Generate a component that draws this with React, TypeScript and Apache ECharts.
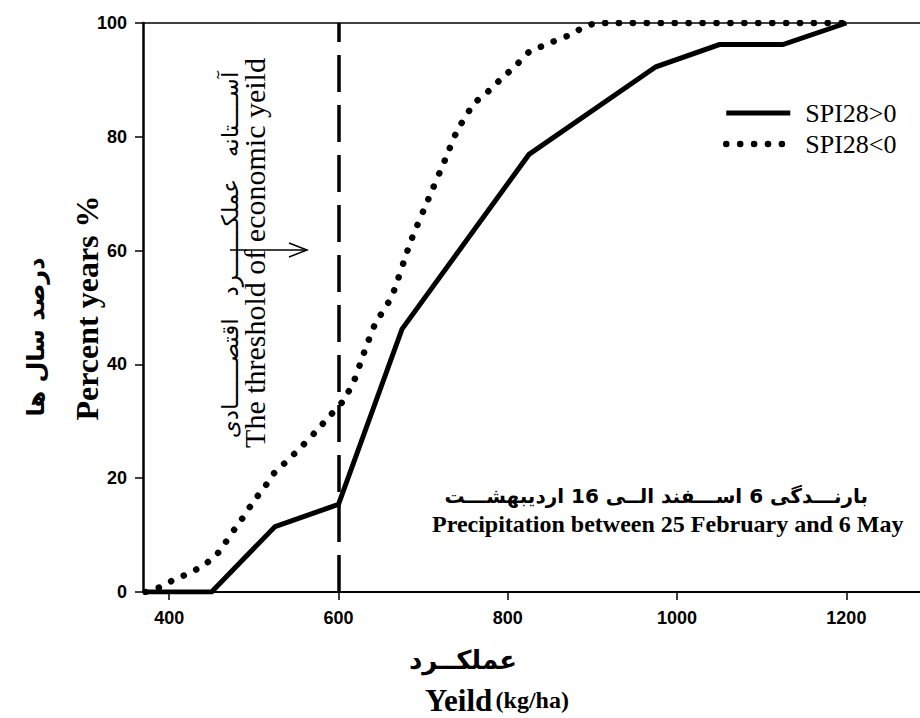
import React, { useEffect, useRef } from "react";
import * as echarts from "echarts";

const xTickValues = [400, 600, 800, 1000, 1200];
const yTickLabels = ["0", "20", "40", "60", "80", "100"];
const thresholdYield = 600;

const seriesNames = ["SPI28>0", "SPI28<0"];

// SPI28>0 : [yield kg/ha, percent years]
const solidData: [number, number][] = [
  [374, 0],
  [450, 0],
  [525, 11.5],
  [600, 15.4],
  [675, 46.2],
  [825, 76.9],
  [975, 92.3],
  [1050, 96.2],
  [1125, 96.2],
  [1200, 100],
];

// SPI28<0
const dottedData: [number, number][] = [
  [372, 0],
  [392, 1],
  [407, 2.3],
  [424, 3.3],
  [439, 4.6],
  [454, 6.2],
  [466, 8.6],
  [477, 11],
  [489, 13.5],
  [500, 16],
  [512, 18.3],
  [524, 20.9],
  [539, 23],
  [556, 25.5],
  [572, 28],
  [590, 31],
  [605, 33.5],
  [618, 37],
  [630, 42],
  [643, 47],
  [663, 52],
  [685, 61.5],
  [706, 69],
  [726, 76],
  [740, 81],
  [760, 85.8],
  [777, 88],
  [793, 90.3],
  [810, 92.6],
  [825, 94.9],
  [842, 96],
  [858, 97],
  [875, 98],
  [890, 99.3],
  [907, 100],
  [1200, 100],
];

const yAxisNameEn = "Percent years %";
const yAxisNameFa = "درصد سال ها";
const xAxisNameFa = "عملکــرد";
const xAxisNameEn = "Yeild";
const xAxisUnit = "(kg/ha)";
const thresholdEn = "The threshold of economic yeild";
const thresholdFa = "آســــتانه   عملکـــــــرد   اقتصــــــادی";
const periodFa = "بارنـــدگی 6 اســـفند الــی 16 اردیبهشـــت";
const periodEn = "Precipitation between 25 February and 6 May";

const serif = "Liberation Serif, Times New Roman, serif";
const sans = "Liberation Sans, Arial, sans-serif";
const faFont = "DejaVu Sans, sans-serif";

const solidStyle = { color: "#000", width: 5 };
const dottedStyle = { color: "#000", width: 6.5, type: [0.1, 13.8], cap: "round" };

export default function App() {
  const ref = useRef<HTMLDivElement>(null);

  useEffect(() => {
    if (!ref.current) return;
    const chart = echarts.init(ref.current, undefined, { renderer: "svg" });
    const option: any = {
      animation: false,
      backgroundColor: "#fff",
      grid: { left: 143, right: 0, top: 23, bottom: 126 },
      legend: {
        orient: "vertical",
        left: 718,
        top: 95,
        itemWidth: 64,
        itemHeight: 30,
        itemGap: 5,
        data: [
          { name: seriesNames[0], itemStyle: { opacity: 0 }, lineStyle: solidStyle },
          { name: seriesNames[1], itemStyle: { opacity: 0 }, lineStyle: dottedStyle },
        ],
        formatter: (name: string) => `{s|${name}}`,
        textStyle: {
          color: "#000",
          padding: [0, 0, 0, 10],
          rich: {
            s: {
              fontFamily: "Liberation Serif",
              fontSize: 26,
              color: "#000",
            },
          },
        },
      },
      xAxis: [
        {
          type: "value",
          min: 369,
          max: 1287,
          axisLine: { show: true, lineStyle: { color: "#000", width: 2 } },
          axisTick: {
            show: true,
            length: 8,
            lineStyle: { color: "#000", width: 1.5 },
            customValues: xTickValues,
          },
          axisLabel: {
            customValues: xTickValues,
            fontFamily: sans,
            fontWeight: "bold",
            fontSize: 18,
            color: "#000",
            margin: 17,
            formatter: (v: number) => String(v),
          },
          splitLine: { show: false },
        },
        {
          type: "value",
          position: "top",
          min: 369,
          max: 1287,
          axisLine: { show: true, lineStyle: { color: "#000", width: 1.5 } },
          axisTick: { show: false },
          axisLabel: { show: false },
          splitLine: { show: false },
        },
      ],
      yAxis: {
        type: "value",
        min: 0,
        max: 100,
        interval: 20,
        axisLine: { show: true, lineStyle: { color: "#000", width: 2.5 } },
        axisTick: { show: true, length: 8, lineStyle: { color: "#000", width: 1.5 } },
        axisLabel: {
          fontFamily: sans,
          fontWeight: "bold",
          fontSize: 18,
          color: "#000",
          margin: 16,
          formatter: (v: number) => yTickLabels[Math.round(v / 20)] ?? String(v),
        },
        splitLine: { show: false },
      },
      series: [
        {
          name: seriesNames[0],
          type: "line",
          data: solidData,
          symbol: "none",
          lineStyle: { ...solidStyle, join: "miter" },
          itemStyle: { color: "#000" },
          z: 3,
          markLine: {
            silent: true,
            symbol: ["none", "none"],
            label: { show: false },
            lineStyle: { color: "#000", width: 3.5, type: [37, 13] },
            data: [{ xAxis: thresholdYield }],
          },
        },
        {
          name: seriesNames[1],
          type: "line",
          data: dottedData,
          symbol: "none",
          smooth: 0.2,
          lineStyle: dottedStyle,
          itemStyle: { color: "#000" },
          z: 2,
        },
      ],
      graphic: [
        {
          type: "text",
          x: 87,
          y: 308,
          rotation: Math.PI / 2,
          style: {
            text: yAxisNameEn,
            font: `bold 32px ${serif}`,
            fill: "#000",
            align: "center",
            verticalAlign: "middle",
          },
        },
        {
          type: "text",
          x: 36,
          y: 337,
          rotation: Math.PI / 2,
          style: {
            text: yAxisNameFa,
            font: `bold 24px ${faFont}`,
            fill: "#000",
            align: "center",
            verticalAlign: "middle",
          },
        },
        {
          type: "text",
          x: 463,
          y: 660,
          style: {
            text: xAxisNameFa,
            font: `bold 26px ${faFont}`,
            fill: "#000",
            align: "center",
            verticalAlign: "middle",
          },
        },
        {
          type: "text",
          x: 497,
          y: 700,
          style: {
            text: `{a|${xAxisNameEn}} {b|${xAxisUnit}}`,
            align: "center",
            verticalAlign: "middle",
            fill: "#000",
            rich: {
              a: { font: `bold 31px ${serif}`, fill: "#000" },
              b: { font: `bold 24px ${serif}`, fill: "#000" },
            },
          },
        },
        {
          type: "text",
          x: 254,
          y: 253,
          rotation: Math.PI / 2,
          style: {
            text: thresholdEn,
            font: `30px ${serif}`,
            fill: "#000",
            align: "center",
            verticalAlign: "middle",
          },
        },
        {
          type: "text",
          x: 230,
          y: 255,
          rotation: Math.PI / 2,
          style: {
            text: thresholdFa,
            font: `23px ${faFont}`,
            fill: "#000",
            align: "center",
            verticalAlign: "middle",
          },
        },
        {
          type: "line",
          shape: { x1: 230, y1: 250, x2: 307, y2: 250 },
          style: { stroke: "#000", lineWidth: 1.5 },
        },
        {
          type: "polyline",
          shape: { points: [[289, 243], [307, 250], [289, 257]] },
          style: { stroke: "#000", lineWidth: 1.5, fill: "none" },
        },
        {
          type: "text",
          x: 868,
          y: 496,
          style: {
            text: periodFa,
            font: `bold 20px ${faFont}`,
            fill: "#000",
            align: "right",
            verticalAlign: "middle",
          },
        },
        {
          type: "text",
          x: 432,
          y: 524,
          style: {
            text: periodEn,
            font: `bold 24px ${serif}`,
            fill: "#000",
            align: "left",
            verticalAlign: "middle",
          },
        },
      ],
    };
    chart.setOption(option);
    return () => chart.dispose();
  }, []);

  return (
    <div
      ref={ref}
      style={{ position: "absolute", left: 0, top: 0, width: 920, height: 718 }}
    />
  );
}
